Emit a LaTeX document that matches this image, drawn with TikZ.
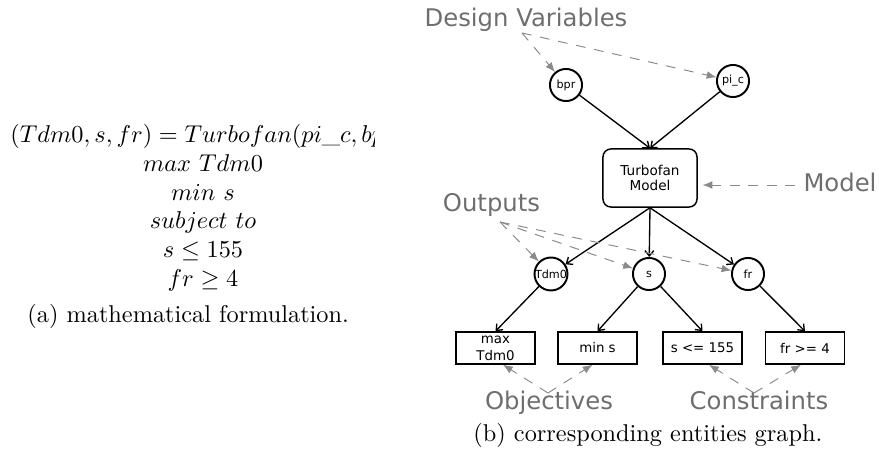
\documentclass[tikz,border=0pt]{standalone}
\usepackage{fontspec}
\newfontfamily\dvs{DejaVu Sans}
\usetikzlibrary{arrows.meta,calc}
\definecolor{labelgray}{HTML}{6E6E6E}
\definecolor{hintgray}{HTML}{8A8A8A}
\begin{document}
\begin{tikzpicture}[x=0.4115pt,y=-0.4115pt,
  lbl/.style={font=\dvs\fontsize{10}{12}\selectfont, text=labelgray, inner sep=0, anchor=base},
  var/.style={circle, draw, line width=0.8pt, minimum size=13.2pt, inner sep=0, font=\dvs\fontsize{4.6}{5}\selectfont},
  ent/.style={draw, line width=0.6pt, inner sep=0, font=\dvs\fontsize{5.5}{7}\selectfont, align=center, minimum height=13.2pt, minimum width=32.5pt},
  modelbox/.style={draw, rounded corners=3.3pt, line width=0.6pt, inner sep=0, minimum width=38.7pt, minimum height=23.9pt, align=center, font=\dvs\fontsize{5.6}{6.2}\selectfont},
  flow/.style={line width=0.55pt, -{Straight Barb[length=2.2pt,width=3.6pt]}},
  hint/.style={draw=hintgray, line width=0.4pt, dash pattern=on 4pt off 3.6pt, -{Latex[length=4pt,width=3.2pt,fill=hintgray]}},
  mathline/.style={inner sep=0, anchor=base},
  caption/.style={inner sep=0, anchor=base west}
]
\useasboundingbox (0,0) rectangle (879,459);

% (a) mathematical formulation
\begin{scope}
  \clip (0,0) rectangle (374,459);
  \node[caption] (f0) at (10,143) {$(Tdm0, s, fr) = Turbofan(pi\_c, bpr)$};
\end{scope}
\node[mathline] (f1) at (203,172) {$max\ Tdm0$};
\node[mathline] (f2) at (203,201) {$min\ s$};
\node[mathline] (f3) at (203,229) {$subject\ to$};
\node[mathline] (f4) at (203,258) {$s \leq 155$};
\node[mathline] (f5) at (203,287) {$fr \geq 4$};
\node[caption] (capa) at (27,323) {(a) mathematical formulation.};

% (b) entities graph
\node[var] (bpr) at (566,85) {bpr};
\node[var] (pic) at (733,81) {pi\_c};
\node[modelbox] (tf) at (650,178) {Turbofan\\Model};
\node[var] (tdm) at (551,274) {Tdm0};
\node[var] (s) at (649,274) {s};
\node[var] (fr) at (748,274) {fr};
\node[ent] (b1) at (495.5,348) {max\\Tdm0};
\node[ent] (b2) at (597.5,348) {min s};
\node[ent] (b3) at (702.5,348) {s <= 155};
\node[ent] (b4) at (805,348) {fr >= 4};

\draw[flow] (bpr) -- (tf.north);
\draw[flow] (pic) -- (tf.north);
\draw[flow] (tf.south) -- (tdm);
\draw[flow] (tf.south) -- (s);
\draw[flow] (tf.south) -- (fr);
\draw[flow] (tdm) -- (b1.north);
\draw[flow] (s) -- (b2.north);
\draw[flow] (s) -- (b3.north);
\draw[flow] (fr) -- (b4.north);

% labels
\node[lbl] (dv) at (526,27) {Design Variables};
\node[lbl] (ml) at (840,192) {Model};
\node[lbl] (ol) at (491.5,212) {Outputs};
\node[lbl] (obl) at (549,410) {Objectives};
\node[lbl] (csl) at (759,410) {Constraints};

\coordinate (dva) at (522,33);
\coordinate (mpa) at (795,185);
\coordinate (opa) at (500,222);
\coordinate (oba) at (548,393);
\coordinate (cna) at (754,393);

\draw[hint] (dva) -- (bpr);
\draw[hint] (dva) -- (pic);
\draw[hint, shorten >=2pt] (mpa) -- (mpa -| tf.east);
\draw[hint] (opa) -- (tdm);
\draw[hint] (opa) -- (s);
\draw[hint] (opa) -- (fr);
\draw[hint] (oba) -- ($(b1.south)+(7.5,0)$);
\draw[hint] (oba) -- ($(b2.south)+(-5,0)$);
\draw[hint] (cna) -- ($(b3.south)+(6.5,0)$);
\draw[hint] (cna) -- ($(b4.south)+(-4,0)$);

\node[caption] (capb) at (473,442) {(b) corresponding entities graph.};
\end{tikzpicture}
\end{document}
